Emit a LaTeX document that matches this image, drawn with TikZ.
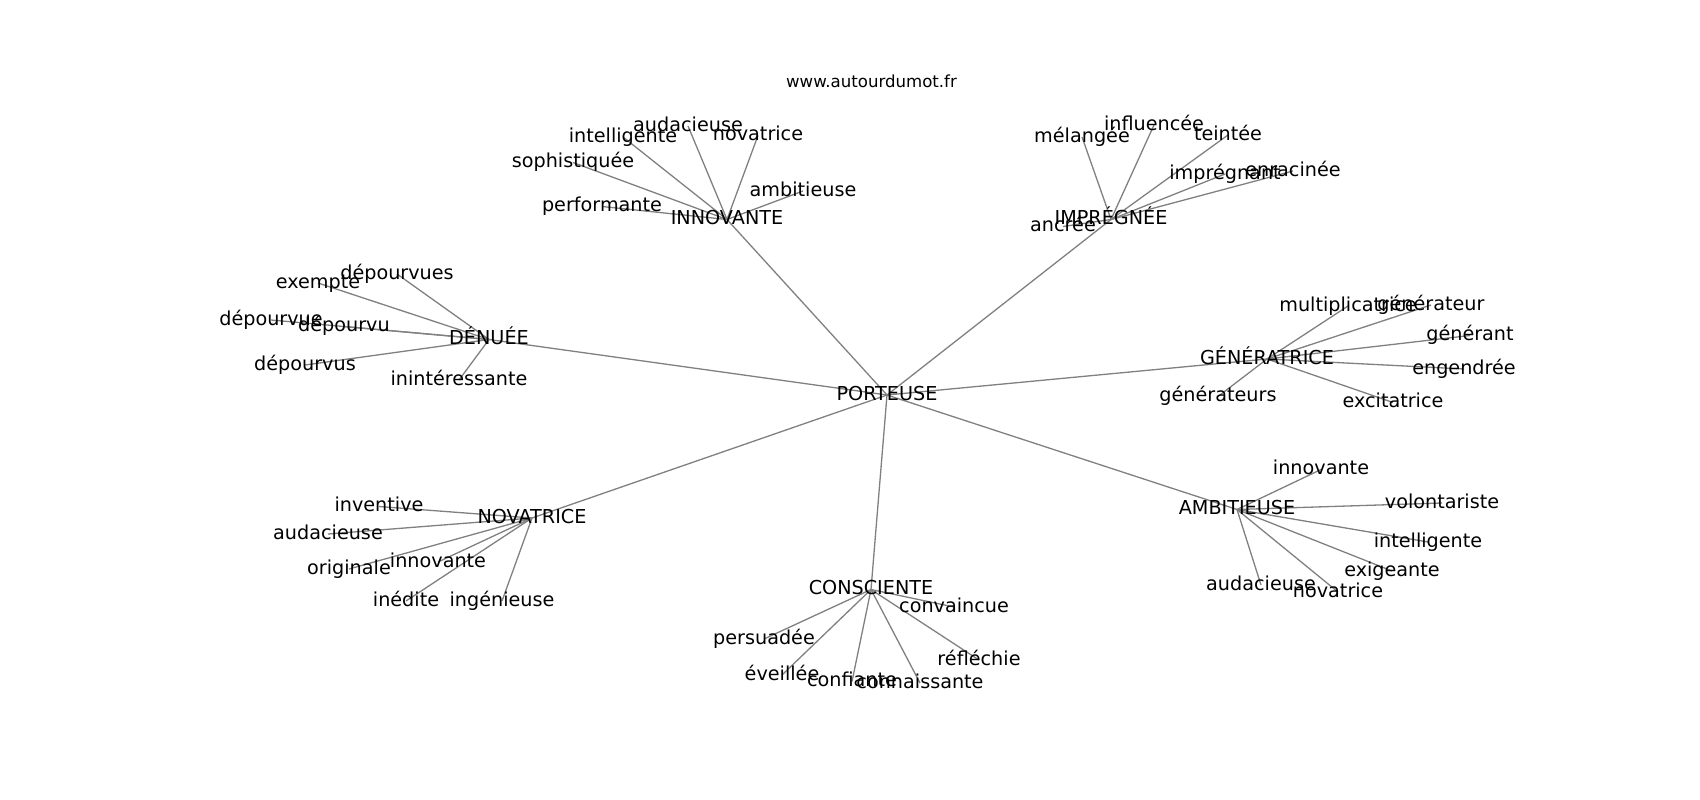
\documentclass[tikz,border=0pt]{standalone}
\usepackage{fontspec}
\setmainfont{DejaVu Sans}
\usetikzlibrary{backgrounds}
\begin{document}
\begin{tikzpicture}[x=1pt,y=-1pt,
  lbl/.style={font=\fontsize{19.2}{19.2}\selectfont, inner sep=0pt, outer sep=0pt,
    text height=14.6pt, text depth=4pt, anchor=center},
  ttl/.style={font=\fontsize{16.6}{16.6}\selectfont, inner sep=0pt, anchor=base},
  edge/.style={draw=gray, line width=1.3pt}]
\useasboundingbox (0,0) rectangle (1700,800);
\node[ttl] (title) at (871.5,88) {www.autourdumot.fr};
% hubs
\node[lbl] (por) at (887,395) {PORTEUSE};
\node[lbl] (inn) at (727,219.5) {INNOVANTE};
\node[lbl] (imp) at (1111,219.5) {IMPRÉGNÉE};
\node[lbl] (den) at (489,339.5) {DÉNUÉE};
\node[lbl] (gen) at (1267,359) {GÉNÉRATRICE};
\node[lbl] (amb) at (1237,509.5) {AMBITIEUSE};
\node[lbl] (nov) at (532,518) {NOVATRICE};
\node[lbl] (con) at (871,589.5) {CONSCIENTE};
% INNOVANTE leaves
\node[lbl] (in1) at (688,126) {audacieuse};
\node[lbl] (in2) at (623,137) {intelligente};
\node[lbl] (in3) at (758,135.5) {novatrice};
\node[lbl] (in4) at (573,162.5) {sophistiquée};
\node[lbl] (in5) at (803,191) {ambitieuse};
\node[lbl] (in6) at (602,206.5) {performante};
% IMPRÉGNÉE leaves
\node[lbl] (im1) at (1082,137) {mélangée};
\node[lbl] (im2) at (1154,125) {influencée};
\node[lbl] (im3) at (1228,135) {teintée};
\node[lbl] (im4) at (1225,174) {imprégnant};
\node[lbl] (im5) at (1293,171) {enracinée};
\node[lbl] (im6) at (1063,226.5) {ancrée};
% DÉNUÉE leaves
\node[lbl] (de1) at (397,274) {dépourvues};
\node[lbl] (de2) at (318,283) {exempte};
\node[lbl] (de3) at (271,320) {dépourvue};
\node[lbl] (de4) at (344,326.5) {dépourvu};
\node[lbl] (de5) at (305,365) {dépourvus};
\node[lbl] (de6) at (459,380) {inintéressante};
% GÉNÉRATRICE leaves
\node[lbl] (ge1) at (1348,306) {multiplicatrice};
\node[lbl] (ge2) at (1431,305) {générateur};
\node[lbl] (ge3) at (1470,335.5) {générant};
\node[lbl] (ge4) at (1464,369) {engendrée};
\node[lbl] (ge5) at (1393,402.5) {excitatrice};
\node[lbl] (ge6) at (1218,396.5) {générateurs};
% AMBITIEUSE leaves
\node[lbl] (am1) at (1321,469.5) {innovante};
\node[lbl] (am2) at (1442,503) {volontariste};
\node[lbl] (am3) at (1428,542) {intelligente};
\node[lbl] (am4) at (1392,571) {exigeante};
\node[lbl] (am5) at (1338,592) {novatrice};
\node[lbl] (am6) at (1261,585) {audacieuse};
% NOVATRICE leaves
\node[lbl] (no1) at (379,506.5) {inventive};
\node[lbl] (no2) at (328,534) {audacieuse};
\node[lbl] (no3) at (349,569) {originale};
\node[lbl] (no4) at (438,562) {innovante};
\node[lbl] (no5) at (406,601) {inédite};
\node[lbl] (no6) at (502,601) {ingénieuse};
% CONSCIENTE leaves
\node[lbl] (co1) at (954,607) {convaincue};
\node[lbl] (co2) at (764,639) {persuadée};
\node[lbl] (co3) at (782,675) {éveillée};
\node[lbl] (co4) at (852,681.5) {confiante};
\node[lbl] (co5) at (920,683) {connaissante};
\node[lbl] (co6) at (979,660) {réfléchie};
\begin{scope}[on background layer]
  \foreach \h in {inn,imp,den,gen,amb,nov,con}
    \draw[edge] (por.center) -- (\h.center);
  \foreach \l in {in1,in2,in3,in4,in5,in6}
    \draw[edge] (inn.center) -- (\l.center);
  \foreach \l in {im1,im2,im3,im4,im5,im6}
    \draw[edge] (imp.center) -- (\l.center);
  \foreach \l in {de1,de2,de3,de4,de5,de6}
    \draw[edge] (den.center) -- (\l.center);
  \foreach \l in {ge1,ge2,ge3,ge4,ge5,ge6}
    \draw[edge] (gen.center) -- (\l.center);
  \foreach \l in {am1,am2,am3,am4,am5,am6}
    \draw[edge] (amb.center) -- (\l.center);
  \foreach \l in {no1,no2,no3,no4,no5,no6}
    \draw[edge] (nov.center) -- (\l.center);
  \foreach \l in {co1,co2,co3,co4,co5,co6}
    \draw[edge] (con.center) -- (\l.center);
\end{scope}
\end{tikzpicture}
\end{document}
